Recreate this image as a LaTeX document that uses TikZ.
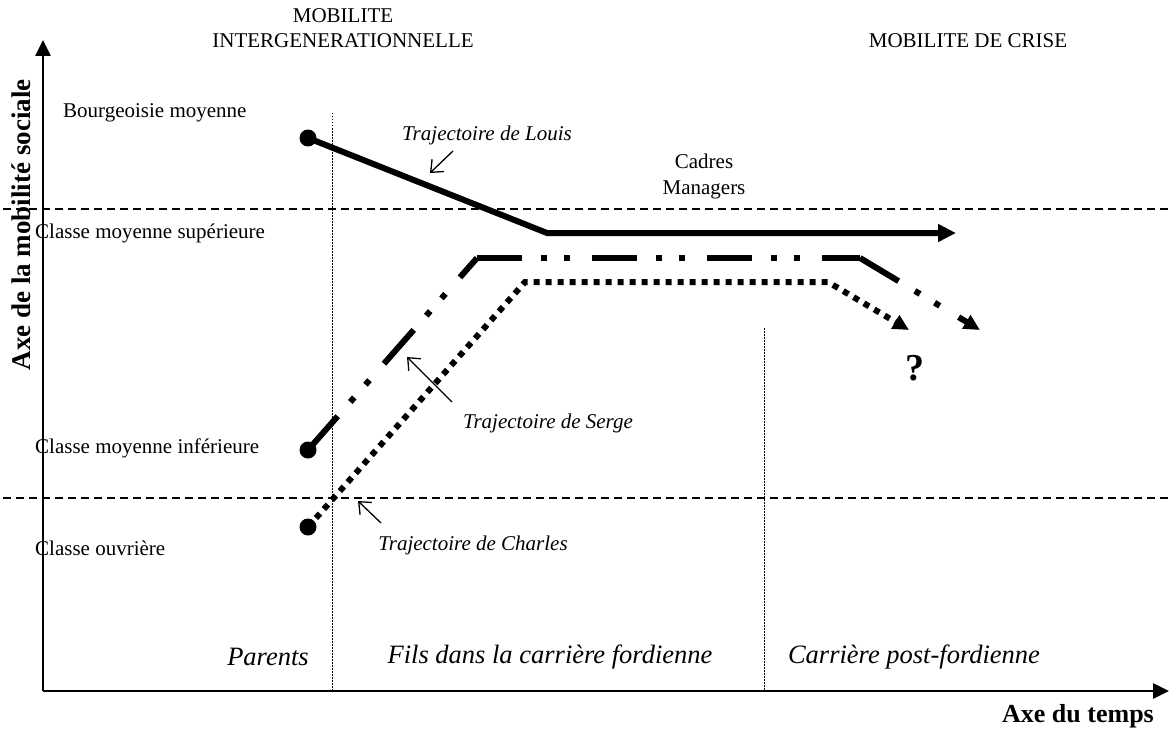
\documentclass[tikz,border=0pt]{standalone}
\usepackage{fontspec}
\setmainfont{Liberation Serif}
\usetikzlibrary{arrows.meta}
\begin{document}
\begin{tikzpicture}[x=1pt,y=-1pt,
  lbl/.style={inner sep=0pt, font=\fontsize{21}{25}\selectfont},
  ital/.style={inner sep=0pt, font=\fontsize{21}{25}\selectfont\itshape},
  big/.style={inner sep=0pt, font=\fontsize{26.5}{30}\selectfont\itshape},
  axislbl/.style={inner sep=0pt, font=\fontsize{27}{30}\selectfont\bfseries},
  axisline/.style={line width=2.6pt, -{Triangle[length=16pt,width=15pt]}},
  sep/.style={line width=1.3pt, dash pattern=on 8pt off 5pt},
  vsep/.style={line width=0.9pt, dash pattern=on 1.5pt off 1.5pt},
  dotnode/.style={circle, fill=black, inner sep=0pt, minimum size=17pt},
  traj/.style={line width=6pt, line join=miter},
  sergepat/.style={traj, dash pattern=on 45pt off 19pt on 6pt off 17pt on 6pt off 22pt},
  charlespat/.style={traj, dash pattern=on 6pt off 6pt},
  tipA/.style={-{Triangle[length=18pt,width=17pt]}},
  tipB/.style={-{Triangle[length=16pt,width=15pt]}},
  ann/.style={line width=1.3pt, -{Straight Barb[length=10pt,width=17pt]}}
]
\useasboundingbox (0,0) rectangle (1169,733);

% axes
\coordinate (O) at (43,691);
\coordinate (Ytop) at (43,40);
\coordinate (Xend) at (1169,691);
\draw[axisline] (O) -- (Ytop);
\draw[axisline] (O) -- (Xend);

% separators
\coordinate (H1a) at (3,209); \coordinate (H1b) at (1169,209);
\coordinate (H2a) at (3,498); \coordinate (H2b) at (1169,498);
\draw[sep] (H1a) -- (H1b);
\draw[sep] (H2a) -- (H2b);
\coordinate (V1a) at (332,113); \coordinate (V1b) at (332,691);
\coordinate (V2a) at (764,328); \coordinate (V2b) at (764,691);
\draw[vsep] (V1a) -- (V1b);
\draw[vsep] (V2a) -- (V2b);

% headings
\node[lbl, align=center] (hMob) at (343,28) {MOBILITE\\INTERGENERATIONNELLE};
\node[lbl] (hCrise) at (968,41) {MOBILITE DE CRISE};

% class labels
\node[lbl, anchor=west] (cBourg) at (63,113) {Bourgeoisie moyenne};
\node[lbl, anchor=west] (cSup) at (35,233) {Classe moyenne supérieure};
\node[lbl, anchor=west] (cInf) at (35,448) {Classe moyenne inférieure};
\node[lbl, anchor=west] (cOuv) at (35,548) {Classe ouvrière};

% axis labels
\node[axislbl, rotate=90] (yl) at (21,225) {Axe de la mobilité sociale};
\node[axislbl, font=\fontsize{26}{30}\selectfont\bfseries] (xl) at (1078,716) {Axe du temps};

% bottom period labels
\node[big] (pPar) at (268,657) {Parents};
\node[big] (pFils) at (550,657) {Fils dans la carrière fordienne};
\node[big] (pPost) at (914,657) {Carrière post-fordienne};

% Cadres Managers
\node[lbl, align=center, font=\fontsize{21}{26}\selectfont] (cadres) at (704,176) {Cadres\\Managers};

% Louis
\node[dotnode] (L0) at (308,138) {};
\coordinate (L1) at (547,233);
\coordinate (L2) at (956,233);
\draw[traj, tipA] (L0.center) -- (L1) -- (L2);

% Serge
\node[dotnode] (S0) at (308,450) {};
\coordinate (S1) at (477,258);
\coordinate (S2) at (860,258);
\coordinate (S3) at (980,330);
\draw[sergepat] (S0.center) -- (S1);
\draw[sergepat] (S1) -- (S2);
\draw[sergepat, tipB] (S2) -- (S3);

% Charles
\node[dotnode] (C0) at (308,527) {};
\coordinate (C1) at (525,282);
\coordinate (C2) at (828,282);
\coordinate (C3) at (909,330);
\draw[charlespat, tipB] (C0.center) -- (C1) -- (C2) -- (C3);

\node[inner sep=0pt, font=\fontsize{38}{40}\selectfont\bfseries] (q) at (915,368) {?};

% trajectory annotations
\node[ital] (tLouis) at (487,135) {Trajectoire de Louis};
\coordinate (aL0) at (453,151); \coordinate (aL1) at (430,173);
\draw[ann] (aL0) -- (aL1);

\node[ital] (tSerge) at (548,423) {Trajectoire de Serge};
\coordinate (aS0) at (452,402); \coordinate (aS1) at (407,357);
\draw[ann] (aS0) -- (aS1);

\node[ital] (tCharles) at (473,545) {Trajectoire de Charles};
\coordinate (aC0) at (381,523); \coordinate (aC1) at (358,501);
\draw[ann] (aC0) -- (aC1);
\end{tikzpicture}
\end{document}
